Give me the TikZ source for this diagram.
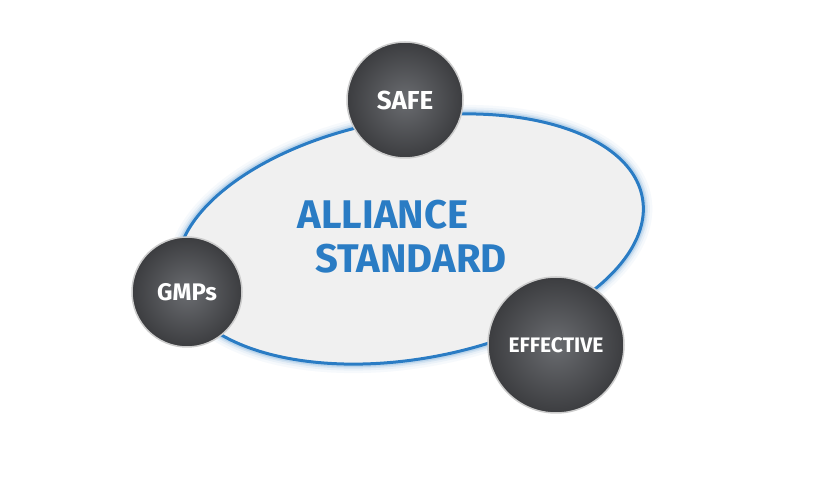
\documentclass[tikz,border=0pt]{standalone}
\usepackage{fontspec}
\setmainfont{Fira Sans}
\definecolor{ablue}{HTML}{2A7CC4}
\definecolor{balla}{HTML}{6A6C70}
\definecolor{ballb}{HTML}{3C3D40}
\begin{document}
\begin{tikzpicture}[x=1pt,y=1pt,
  ball/.style={circle,draw=gray!40,line width=1.5pt,inner sep=0pt,
    inner color=balla,outer color=ballb,text=white,font=\bfseries},
  title/.style={text=ablue,font=\bfseries\fontsize{40}{44}\selectfont}]
\fill[white] (0,0) rectangle (820,477);
\useasboundingbox (0,0) rectangle (820,477);
\begin{scope}[shift={(410,238)},rotate=10]
\foreach \w/\o in {18/0.04,13/0.06,9/0.1,6/0.15}
  \draw[ablue,opacity=\o,line width=\w pt] (0,0) ellipse (236 and 120);
\fill[gray!12] (0,0) ellipse (236 and 120);
\draw[ablue,line width=3pt] (0,0) ellipse (236 and 120);
\end{scope}
\node[title] (t1) at (383,262) {ALLIANCE};
\node[title] (t2) at (411,218) {STANDARD};
\node[ball,minimum size=116pt,font=\bfseries\fontsize{26}{28}\selectfont] (safe) at (405,377) {SAFE};
\node[ball,minimum size=110pt,font=\bfseries\fontsize{24}{26}\selectfont] (gmp) at (187,185) {GMPs};
\node[ball,minimum size=136pt,font=\bfseries\fontsize{21}{24}\selectfont] (eff) at (556,132) {EFFECTIVE};
\end{tikzpicture}
\end{document}
